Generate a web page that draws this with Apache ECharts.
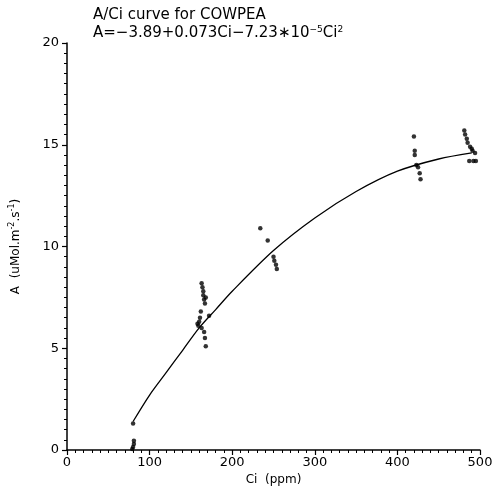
<!DOCTYPE html>
<html><head><meta charset="utf-8">
<script src="https://cdn.jsdelivr.net/npm/echarts@6/dist/echarts.min.js"></script>
<style>html,body{margin:0;padding:0;background:#fff}#c{width:498px;height:497px}</style>
</head><body><div id="c"></div>
<script>
const xTicks = [0,100,200,300,400,500];
const yTicks = [0,5,10,15,20];
const obsCi = [80,81,81,80,79, 160,161,159,162,163,164,165,165,166,167,168,166,167,168,172,158,163, 234,243,250,251,253,254, 420,421,421,423,425,427,428, 481,482,484,485,488,490,491,487,492,495,494];
const obsA  = [1.3,0.45,0.3,0.15,0.05, 6.3,6.5,6.1,6.8,8.2,8.0,7.8,7.6,7.4,7.2,7.5,5.8,5.5,5.1,6.6,6.2,6.0, 10.9,10.3,9.5,9.3,9.1,8.9, 15.4,14.7,14.5,14.0,13.9,13.6,13.3, 15.7,15.5,15.3,15.1,14.9,14.8,14.7,14.2,14.2,14.2,14.6];
const fitCi = [80,100,120,140,160,180,200,250,300,350,400,450,490];
const fitA  = [1.4,2.7,3.8,4.9,6.0,6.9,7.8,9.8,11.4,12.7,13.7,14.3,14.6];

const chart = echarts.init(document.getElementById('c'));
const font = 'DejaVu Sans';
chart.setOption({
  backgroundColor:'#fff',
  animation:false,
  title:[
    {text:'A/Ci curve for COWPEA', left:88, top:3, textStyle:{fontFamily:font,fontWeight:'normal',fontSize:15,color:'#000'}},
    {text:'A=−3.89+0.073Ci−7.23∗10{sup|−5}Ci{sup|2}', left:88, top:20,
     textStyle:{fontFamily:font,fontWeight:'normal',fontSize:15,color:'#000',
       rich:{sup:{fontFamily:font,fontSize:9,verticalAlign:'top',padding:[0,0,8,0],color:'#000'}}}}
  ],
  grid:{left:67,right:18,top:43,bottom:47},
  xAxis:{type:'value',min:0,max:500,interval:100,
    name:'Ci  (ppm)',nameLocation:'middle',nameGap:24,
    nameTextStyle:{fontFamily:font,fontSize:12,color:'#000'},
    axisLine:{lineStyle:{color:'#000',width:1.5}},
    axisTick:{show:true,length:5,inside:false,lineStyle:{color:'#000',width:1.2}},
    minorTick:{show:true,splitNumber:10,length:3,lineStyle:{color:'#000',width:1}},
    axisLabel:{fontFamily:font,fontSize:13,color:'#000',margin:6},
    splitLine:{show:false}},
  yAxis:{type:'value',min:0,max:20,interval:5,
    name:'A  (uMol.m{sup|-2}.s{sup|-1})',nameLocation:'middle',nameGap:44,nameRotate:90,
    nameTextStyle:{fontFamily:font,fontSize:12,color:'#000',
      rich:{sup:{fontFamily:font,fontSize:8,verticalAlign:'top',padding:[0,0,7,0],color:'#000'}}},
    axisLine:{show:true,lineStyle:{color:'#000',width:1.5}},
    axisTick:{show:true,length:5,lineStyle:{color:'#000',width:1.2}},
    minorTick:{show:true,splitNumber:10,length:3,lineStyle:{color:'#000',width:1}},
    axisLabel:{fontFamily:font,fontSize:13,color:'#000',margin:8},
    splitLine:{show:false}},
  series:[
    {type:'line',data:fitCi.map((c,i)=>[c,fitA[i]]),smooth:0.3,showSymbol:false,
     lineStyle:{color:'#000',width:1.3}},
    {type:'scatter',data:obsCi.map((c,i)=>[c,obsA[i]]),symbolSize:4.5,itemStyle:{color:'#000'}}
  ]
});
</script></body></html>
